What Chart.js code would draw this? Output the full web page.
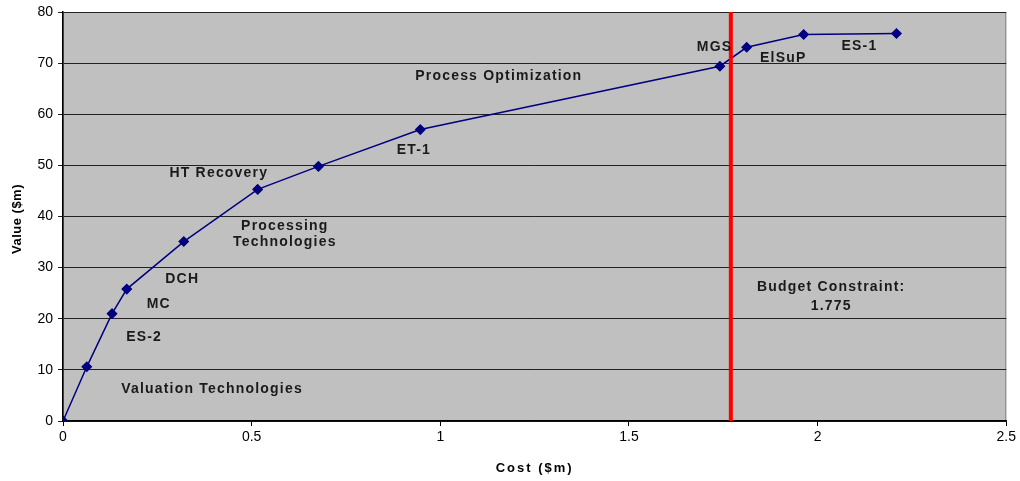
<!DOCTYPE html>
<html><head><meta charset="utf-8">
<script src="https://cdn.jsdelivr.net/npm/chart.js@4"></script>
<style>html,body{margin:0;padding:0;background:#fff}#wrap{width:1020px;height:481px}</style>
</head><body><div id="wrap"><canvas id="c" width="1020" height="481"></canvas></div>
<script>
const costs = [0, 0.063, 0.13, 0.169, 0.32, 0.516, 0.677, 0.947, 1.741, 1.812, 1.963, 2.209];
const values = [0, 10.6, 21.0, 25.8, 35.1, 45.3, 49.8, 57.0, 69.4, 73.1, 75.6, 75.8];
const budget = 1.77;
const budgetRange = [0, 80];
const xTicks = [0, 0.5, 1, 1.5, 2, 2.5];
const yTicks = [0, 10, 20, 30, 40, 50, 60, 70, 80];
const xTitle = 'Cost ($m)';
const yTitle = 'Value ($m)';
const labelTexts = ["HT Recovery","Processing","Technologies","DCH","MC","ES-2","Valuation Technologies","ET-1","Process Optimization","MGS","ElSuP","ES-1","Budget Constraint:","1.775"];
const labelX = [0.413,0.588,0.588,0.316,0.254,0.215,0.395,0.930,1.155,1.727,1.909,2.111,2.036,2.036];
const labelY = [48.4,38.2,34.9,27.7,22.8,16.4,6.2,52.9,67.5,73.2,71.0,73.4,26.1,22.4];

const bgPlugin = {
  id:'bg',
  beforeDraw(chart){
    const {ctx, chartArea:a} = chart;
    ctx.save();
    ctx.fillStyle='#C0C0C0';
    ctx.fillRect(a.left,a.top,a.right-a.left,a.bottom-a.top);
    ctx.strokeStyle='#808080';ctx.lineWidth=1;
    ctx.strokeRect(a.left+0.5,a.top+0.5,a.right-a.left-1,a.bottom-a.top-1);
    ctx.restore();
  }
};
const textPlugin = {
  id:'txt',
  afterDatasetsDraw(chart){
    const {ctx, scales, chartArea:a} = chart;
    ctx.save();
    ctx.font='bold 14px "Liberation Sans", Arial, sans-serif';
    ctx.letterSpacing='1.2px';
    ctx.fillStyle='#1a1a1a';
    ctx.textAlign='center';ctx.textBaseline='middle';
    labelTexts.forEach((t,i)=>{
      ctx.fillText(t, scales.x.getPixelForValue(labelX[i]), scales.y.getPixelForValue(labelY[i]));
    });
    ctx.fillStyle='#000';
    ctx.font='bold 13px "Liberation Sans", Arial, sans-serif';
    ctx.letterSpacing='2px';
    ctx.fillText(xTitle, (a.left+a.right)/2, 468);
    ctx.letterSpacing='0.5px';
    ctx.translate(17, 219);
    ctx.rotate(-Math.PI/2);
    ctx.fillText(yTitle, 0, 0);
    ctx.restore();
  }
};

new Chart(document.getElementById('c'), {
  type:'scatter',
  data:{datasets:[
    {data:costs.map((c,i)=>({x:c,y:values[i]})), showLine:true, borderColor:'#000080', backgroundColor:'#000080',
     borderWidth:1.5, pointStyle:'rectRot', pointRadius:4.5, pointHoverRadius:4.5, order:2},
    {data:budgetRange.map(v=>({x:budget,y:v})), showLine:true, borderColor:'#FF0000', borderWidth:4, pointRadius:0, order:1}
  ]},
  options:{
    responsive:false, animation:false, events:[],
    layout:{padding:{top:11,right:13,left:0,bottom:0}},
    plugins:{legend:{display:false},tooltip:{enabled:false}},
    scales:{
      x:{type:'linear',min:0,max:2.5,
        afterBuildTicks(s){s.ticks=xTicks.map(v=>({value:v}));},
        afterFit(s){s.height=60;},
        ticks:{color:'#000',font:{family:'"Liberation Sans", Arial',size:14,lineHeight:1},padding:4,callback:v=>String(v)},
        grid:{drawOnChartArea:false,drawTicks:true,tickLength:5,color:'#000'},
        border:{color:'#000',width:1.5}
      },
      y:{type:'linear',min:0,max:80,
        afterBuildTicks(s){s.ticks=yTicks.map(v=>({value:v}));},
        afterFit(s){s.width=63;},
        ticks:{color:'#000',font:{family:'"Liberation Sans", Arial',size:14,lineHeight:1},padding:5},
        grid:{color:'#222',lineWidth:1,tickLength:5,drawTicks:true},
        border:{color:'#000',width:1.5}
      }
    }
  },
  plugins:[bgPlugin,textPlugin]
});
</script></body></html>
